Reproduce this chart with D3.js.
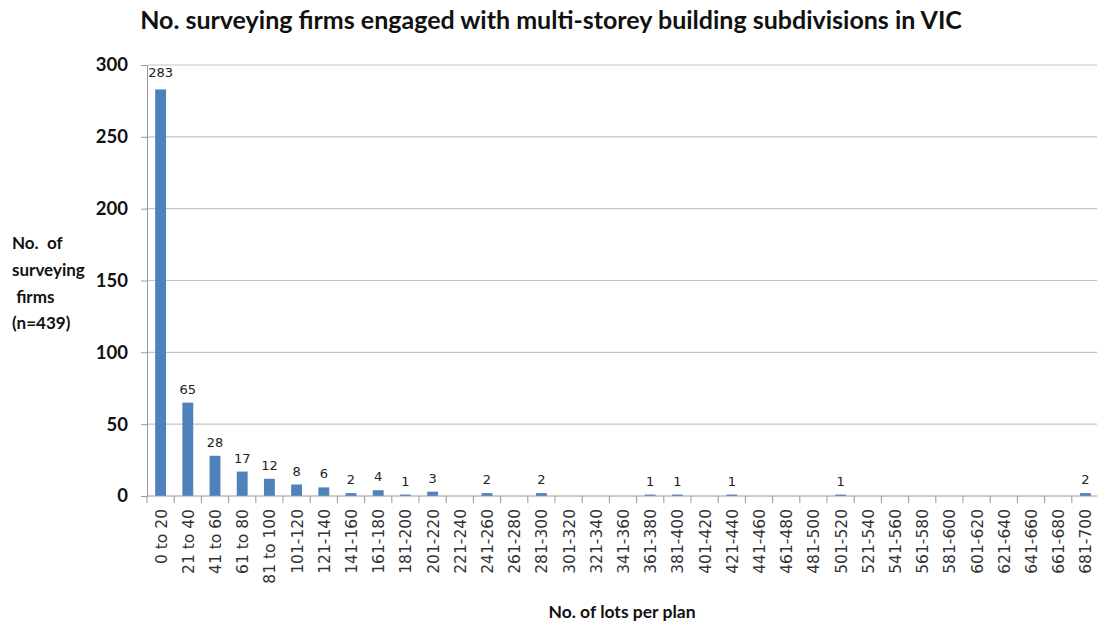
<!DOCTYPE html>
<html>
<head>
<meta charset="utf-8">
<script src="https://cdnjs.cloudflare.com/ajax/libs/d3/7.8.5/d3.min.js"></script>
<style>
  html, body { margin: 0; padding: 0; background: #fff; }
  svg { display: block; }
</style>
</head>
<body>
<svg id="chart" width="1097" height="625"></svg>
<script>
// Lot-size bands (number of lots per plan)
const categories = [
  "0 to 20", "21 to 40", "41 to 60", "61 to 80", "81 to 100",
  "101-120", "121-140", "141-160", "161-180", "181-200",
  "201-220", "221-240", "241-260", "261-280", "281-300",
  "301-320", "321-340", "341-360", "361-380", "381-400",
  "401-420", "421-440", "441-460", "461-480", "481-500",
  "501-520", "521-540", "541-560", "561-580", "581-600",
  "601-620", "621-640", "641-660", "661-680", "681-700"
];
// Number of surveying firms in each band (0 = no label)
const firms = [
  283, 65, 28, 17, 12,
  8, 6, 2, 4, 1,
  3, 0, 2, 0, 2,
  0, 0, 0, 1, 1,
  0, 1, 0, 0, 0,
  1, 0, 0, 0, 0,
  0, 0, 0, 0, 2
];
const yTicks = [0, 50, 100, 150, 200, 250, 300];

const svg = d3.select("#chart");
const margin = { left: 147, right: 0, top: 65, bottom: 129 };
const W = 1097, H = 625;
const plotW = 952;
const plotH = H - margin.top - margin.bottom;

const x = d3.scaleBand().domain(categories).range([margin.left, margin.left + plotW]).paddingInner(0.6).paddingOuter(0.3);
const xb = d3.scaleBand().domain(categories).range([margin.left, margin.left + plotW]);
const y = d3.scaleLinear().domain([0, 300]).range([margin.top + plotH, margin.top]);

const titleFont = "Lato, 'Open Sans', sans-serif";

// Horizontal gridlines
svg.append("g")
  .selectAll("line")
  .data(yTicks.filter(d => d > 0))
  .join("line")
  .attr("x1", margin.left).attr("x2", W)
  .attr("y1", d => y(d)).attr("y2", d => y(d))
  .attr("stroke", "#c4c4c4").attr("stroke-width", 1.2);

// Y axis
const yAxis = svg.append("g")
  .attr("transform", `translate(${margin.left},0)`)
  .call(d3.axisLeft(y).tickValues(yTicks).tickSize(6).tickPadding(13));
yAxis.select(".domain").attr("stroke", "#999");
yAxis.selectAll(".tick line").attr("stroke", "#999");
yAxis.selectAll(".tick text")
  .attr("font-family", titleFont)
  .attr("font-weight", "bold")
  .attr("font-size", 18.5)
  .attr("fill", "#111");

// Bars
svg.append("g")
  .selectAll("rect")
  .data(categories.map((c, i) => ({ c, v: firms[i] })))
  .join("rect")
  .attr("x", d => x(d.c))
  .attr("width", x.bandwidth())
  .attr("y", d => y(d.v))
  .attr("height", d => y(0) - y(d.v))
  .attr("fill", "#4f81bd");

// Value labels
svg.append("g")
  .selectAll("text")
  .data(categories.map((c, i) => ({ c, v: firms[i] })).filter(d => d.v > 0))
  .join("text")
  .attr("x", d => x(d.c) + x.bandwidth() / 2)
  .attr("y", d => d.v > 250 ? y(300) + 12 : y(d.v) - 9)
  .attr("text-anchor", "middle")
  .attr("font-family", "'DejaVu Sans', sans-serif")
  .attr("font-size", 13)
  .attr("fill", "#222")
  .text(d => d.v);

// X axis with ticks on band boundaries
const xAxisG = svg.append("g").attr("transform", `translate(0,${y(0)})`);
xAxisG.append("line")
  .attr("x1", margin.left).attr("x2", W)
  .attr("stroke", "#999").attr("stroke-width", 1.2);
xAxisG.selectAll("line.tk")
  .data(categories)
  .join("line").attr("class", "tk")
  .attr("x1", d => xb(d)).attr("x2", d => xb(d))
  .attr("y1", 0).attr("y2", 7)
  .attr("stroke", "#999");
xAxisG.selectAll("text")
  .data(categories)
  .join("text")
  .attr("transform", d => `translate(${x(d) + x.bandwidth() / 2 + 6},13) rotate(-90)`)
  .attr("text-anchor", "end")
  .attr("font-family", "'DejaVu Sans', sans-serif")
  .attr("font-size", 15.5)
  .attr("fill", "#333")
  .text(d => d);

// Title
svg.append("text")
  .attr("x", 551).attr("y", 29)
  .attr("text-anchor", "middle")
  .attr("font-family", titleFont)
  .attr("font-weight", "bold")
  .attr("font-size", 25)
  .attr("fill", "#111")
  .text("No. surveying firms engaged with multi-storey building subdivisions in VIC");

// Y axis title
const yTitle = ["No.  of", "surveying", " firms", "(n=439)"];
svg.append("text")
  .attr("font-family", titleFont)
  .attr("font-weight", "bold")
  .attr("font-size", 17)
  .attr("fill", "#111")
  .attr("xml:space", "preserve")
  .selectAll("tspan")
  .data(yTitle)
  .join("tspan")
  .attr("x", 12)
  .attr("y", (d, i) => 249 + i * 26.8)
  .text(d => d);

// X axis title
svg.append("text")
  .attr("x", 622).attr("y", 618)
  .attr("text-anchor", "middle")
  .attr("font-family", titleFont)
  .attr("font-weight", "bold")
  .attr("font-size", 17.5)
  .attr("fill", "#111")
  .text("No. of lots per plan");
</script>
</body>
</html>
